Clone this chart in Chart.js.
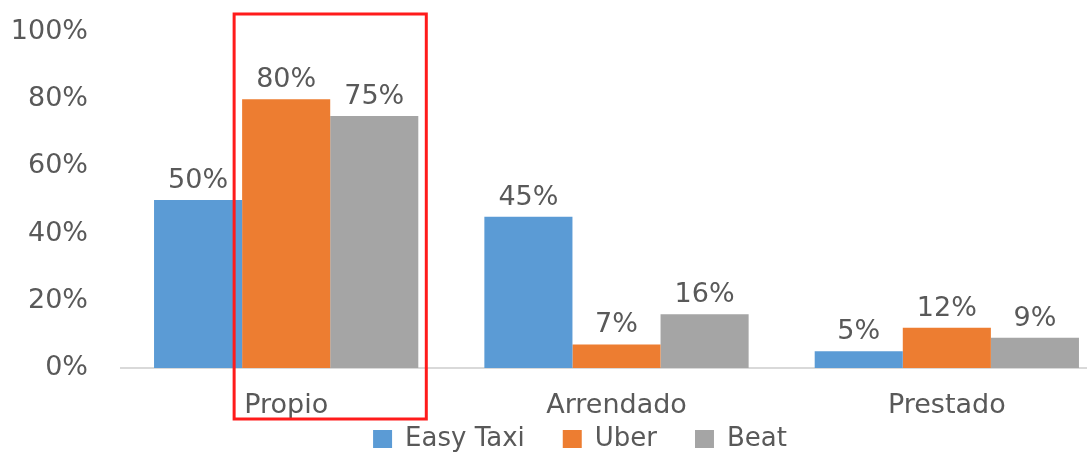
<!DOCTYPE html>
<html>
<head>
<meta charset="utf-8">
<script src="https://cdn.jsdelivr.net/npm/chart.js@4"></script>
<style>
  html, body { margin: 0; padding: 0; background: #fff; overflow: hidden; }
  #wrap { width: 1160px; height: 497px; }
</style>
</head>
<body>
<div id="wrap"><canvas id="grafico" width="1160" height="497"></canvas></div>
<script>
const categorias = ['Propio', 'Arrendado', 'Prestado'];
const easyTaxi = [50, 45, 5];
const uber = [80, 7, 12];
const beat = [75, 16, 9];
const ticksY = [0, 20, 40, 60, 80, 100];

const cinzaTexto = '#595959';
Chart.defaults.font.family = "'DejaVu Sans', sans-serif";
Chart.defaults.font.size = 27;
Chart.defaults.color = cinzaTexto;

// rotulos de porcentagem em cima das barras
const rotulos = {
    id: 'rotulos',
    afterDatasetsDraw(chart) {
        const ctx = chart.ctx;
        ctx.save();
        ctx.font = "27px 'DejaVu Sans', sans-serif";
        ctx.fillStyle = cinzaTexto;
        ctx.textAlign = 'center';
        ctx.textBaseline = 'alphabetic';
        chart.data.datasets.forEach((ds, i) => {
            chart.getDatasetMeta(i).data.forEach((bar, j) => {
                ctx.fillText(ds.data[j] + '%', bar.x, bar.y - 12);
            });
        });
        ctx.restore();
    }
};

// caixa vermelha em volta de Uber e Beat no grupo "Propio"
const destaque = {
    id: 'destaque',
    afterDraw(chart) {
        const barUber = chart.getDatasetMeta(1).data[0];
        const barBeat = chart.getDatasetMeta(2).data[0];
        const area = chart.chartArea;
        const esq = barUber.x - barUber.width / 2 - 8;
        const dir = barBeat.x + barBeat.width / 2 + 8;
        const ctx = chart.ctx;
        ctx.save();
        ctx.strokeStyle = '#FF1B1B';
        ctx.lineWidth = 3;
        ctx.strokeRect(esq, area.top - 18, dir - esq, area.bottom - area.top + 69);
        ctx.restore();
    }
};

// legenda deslocada (direita e para cima), como no original
const moverLegenda = {
    id: 'moverLegenda',
    afterLayout(chart) {
        const leg = chart.legend;
        const topo = chart.scales.x.bottom - 35;
        leg.bottom += topo - leg.top;
        leg.top = topo;
        leg.left += 24;
        leg.right += 24;
    }
};

new Chart(document.getElementById('grafico'), {
    type: 'bar',
    data: {
        labels: categorias,
        datasets: [
            { label: 'Easy Taxi', data: easyTaxi, backgroundColor: '#5B9BD5' },
            { label: 'Uber', data: uber, backgroundColor: '#ED7D31' },
            { label: 'Beat', data: beat, backgroundColor: '#A5A5A5' }
        ]
    },
    options: {
        responsive: false,
        animation: false,
        devicePixelRatio: 1,
        categoryPercentage: 0.8,
        barPercentage: 1.0,
        layout: { padding: { top: 32, right: 48, left: 0, bottom: 0 } },
        plugins: {
            legend: {
                position: 'bottom',
                labels: { boxWidth: 19, boxHeight: 18, padding: 38, font: { size: 26 } }
            },
            tooltip: { enabled: false }
        },
        scales: {
            x: {
                grid: { display: false, drawTicks: false },
                border: { display: true, color: '#D9D9D9', width: 2 },
                ticks: { padding: 22 },
                afterFit(axis) { axis.height = 55; }
            },
            y: {
                min: 0,
                max: 100,
                grid: { display: false, drawTicks: false },
                border: { display: false },
                ticks: { padding: 33, callback: v => v + '%' },
                afterBuildTicks(axis) { axis.ticks = ticksY.map(v => ({ value: v })); },
                afterFit(axis) {
                    axis.width = 121;
                    axis.paddingTop = 0;
                    axis.paddingBottom = 0;
                }
            }
        }
    },
    plugins: [rotulos, destaque, moverLegenda]
});
</script>
</body>
</html>
